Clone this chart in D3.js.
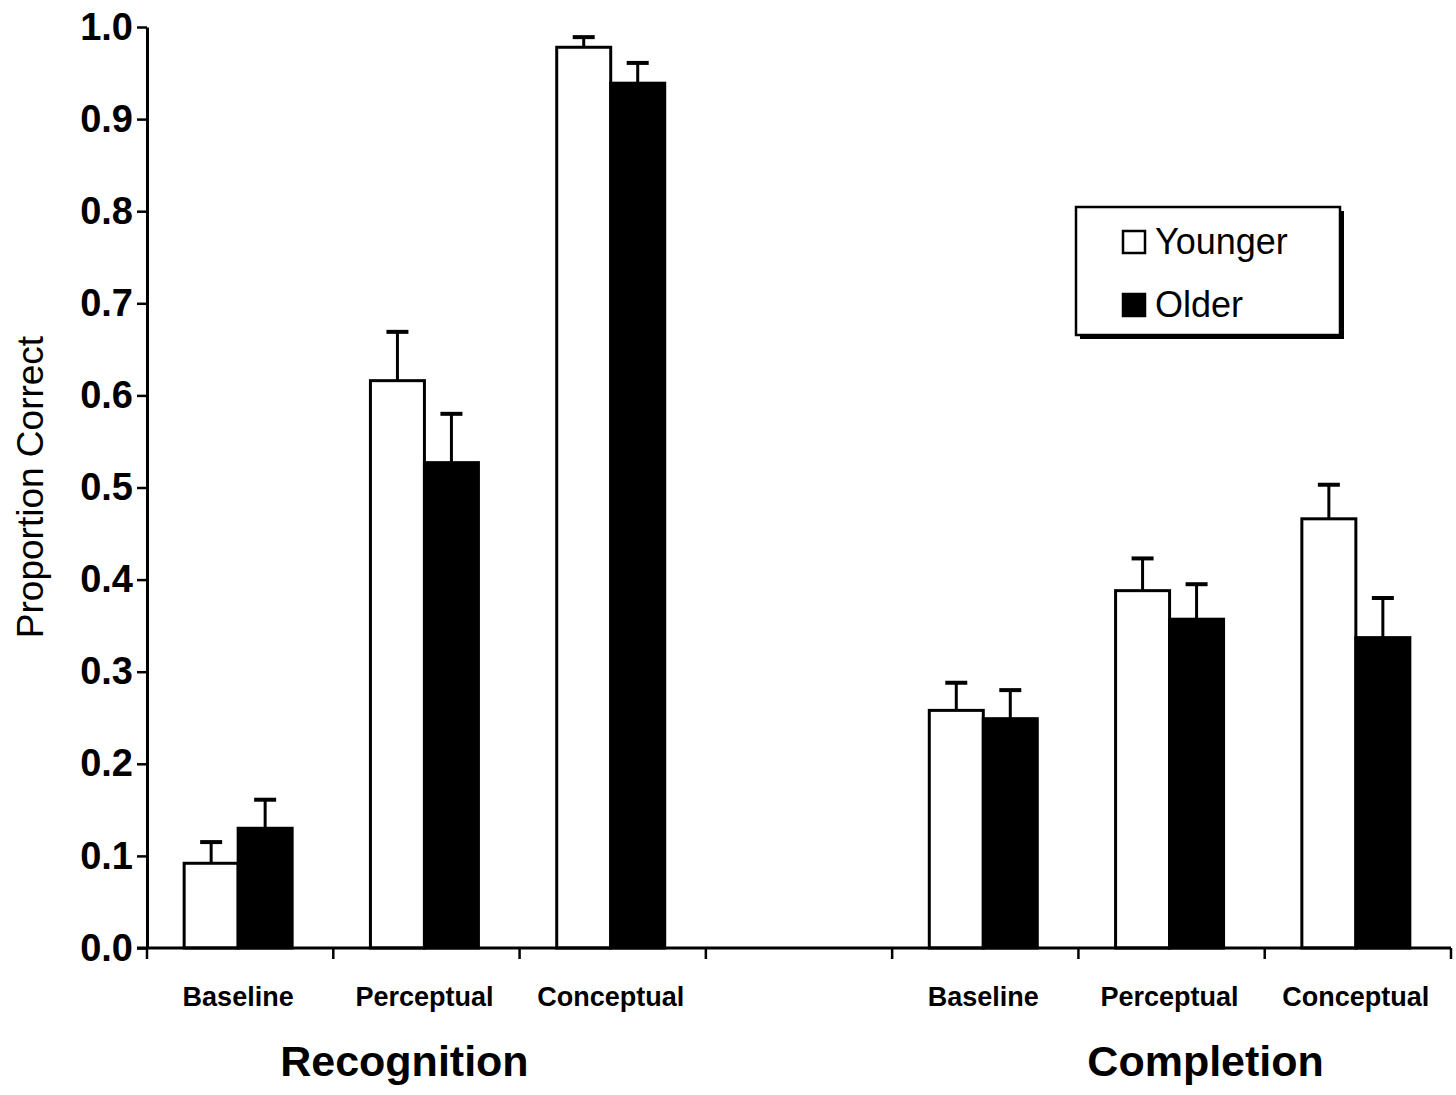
<!DOCTYPE html>
<html>
<head>
<meta charset="utf-8">
<script src="https://cdn.jsdelivr.net/npm/d3@7"></script>
<style>
  html, body { margin: 0; padding: 0; background: #fff; }
  svg { display: block; font-family: "Liberation Sans", Arial, sans-serif; }
</style>
</head>
<body>
<svg id="chart" width="1456" height="1095"></svg>
<script>
// ---- data ----
const slots = ["R-Baseline", "R-Perceptual", "R-Conceptual", "gap", "C-Baseline", "C-Perceptual", "C-Conceptual"];
const categories = ["Baseline", "Perceptual", "Conceptual", "Baseline", "Perceptual", "Conceptual"];
const categorySlots = ["R-Baseline", "R-Perceptual", "R-Conceptual", "C-Baseline", "C-Perceptual", "C-Conceptual"];
const groups = ["Recognition", "Completion"];
const series = ["Younger", "Older"];
const younger = [0.092, 0.616, 0.978, 0.258, 0.388, 0.466];
const older = [0.130, 0.527, 0.939, 0.249, 0.357, 0.337];
const youngerErr = [0.023, 0.053, 0.011, 0.030, 0.035, 0.037];
const olderErr = [0.031, 0.053, 0.022, 0.031, 0.038, 0.043];
const yTicks = [0.0, 0.1, 0.2, 0.3, 0.4, 0.5, 0.6, 0.7, 0.8, 0.9, 1.0];
const yTitle = "Proportion Correct";

(function () {
// ---- layout ----
const svg = d3.select("#chart");
const mLeft = 147, mRight = 1451, mTop = 27, mBottom = 948;

const x0 = d3.scaleBand().domain(slots).range([mLeft, mRight]).paddingInner(0).paddingOuter(0);
const x1 = d3.scaleBand().domain(series).range([0, x0.bandwidth()]).paddingInner(0).paddingOuter(0.725);
const y = d3.scaleLinear().domain([0, 1]).range([mBottom, mTop]);

const fills = { Younger: "#ffffff", Older: "#000000" };
const values = { Younger: younger, Older: older };
const errs = { Younger: youngerErr, Older: olderErr };

const rows = [];
categorySlots.forEach((s, i) => {
  series.forEach(k => rows.push({ slot: s, key: k, v: values[k][i], e: errs[k][i] }));
});

// bars
svg.append("g").selectAll("rect").data(rows).join("rect")
  .attr("x", d => x0(d.slot) + x1(d.key) - 2)
  .attr("y", d => y(d.v))
  .attr("width", x1.bandwidth())
  .attr("height", d => y(0) - y(d.v))
  .attr("fill", d => fills[d.key])
  .attr("stroke", "#000")
  .attr("stroke-width", 3);

// error bars
const eg = svg.append("g").attr("stroke", "#000");
const cx = d => x0(d.slot) + x1(d.key) + x1.bandwidth() / 2 - 2;
eg.selectAll("line.stem").data(rows).join("line")
  .attr("class", "stem")
  .attr("x1", cx).attr("x2", cx)
  .attr("y1", d => y(d.v))
  .attr("y2", d => y(d.v + d.e))
  .attr("stroke-width", 3);
eg.selectAll("line.cap").data(rows).join("line")
  .attr("class", "cap")
  .attr("x1", d => cx(d) - 11)
  .attr("x2", d => cx(d) + 11)
  .attr("y1", d => y(d.v + d.e))
  .attr("y2", d => y(d.v + d.e))
  .attr("stroke-width", 4);

// y axis
const yAxis = svg.append("g").attr("transform", `translate(${mLeft},0)`)
  .call(d3.axisLeft(y).tickValues(yTicks).tickFormat(d3.format(".1f")).tickSize(10).tickSizeOuter(0));
yAxis.select(".domain").attr("stroke-width", 3);
yAxis.selectAll(".tick line").attr("stroke-width", 2.5);
yAxis.selectAll(".tick text")
  .attr("x", -14)
  .attr("font-size", 38)
  .attr("font-weight", "bold")
  .attr("fill", "#000")
  .attr("font-family", "'Liberation Sans', Arial, sans-serif");

// x axis (band boundaries as ticks)
const boundaries = slots.map(s => x0(s)).concat([mRight]);
const xg = svg.append("g");
xg.append("line").attr("x1", mLeft - 10).attr("x2", mRight).attr("y1", mBottom).attr("y2", mBottom)
  .attr("stroke", "#000").attr("stroke-width", 3);
xg.selectAll("line.xt").data(boundaries).join("line")
  .attr("class", "xt")
  .attr("x1", d => d).attr("x2", d => d)
  .attr("y1", mBottom).attr("y2", mBottom + 11)
  .attr("stroke", "#000").attr("stroke-width", 2.5);

// category labels
svg.append("g").selectAll("text").data(categorySlots).join("text")
  .attr("x", (s) => x0(s) + x0.bandwidth() / 2 - 2)
  .attr("y", 1006)
  .attr("text-anchor", "middle")
  .attr("font-size", 27)
  .attr("font-weight", "bold")
  .text((s, i) => categories[i]);

// group labels
const groupCenters = [x0("R-Perceptual") + x0.bandwidth() / 2 - 22, x0("C-Perceptual") + x0.bandwidth() / 2 + 34];
svg.append("g").selectAll("text").data(groups).join("text")
  .attr("x", (g, i) => groupCenters[i])
  .attr("y", 1076)
  .attr("text-anchor", "middle")
  .attr("font-size", 43)
  .attr("font-weight", "bold")
  .text(g => g);

// y title
svg.append("text")
  .attr("transform", `translate(43,487) rotate(-90)`)
  .attr("text-anchor", "middle")
  .attr("font-size", 37)
  .text(yTitle);

// legend
const lg = svg.append("g").attr("transform", "translate(1076,207)");
lg.append("rect").attr("x", 4).attr("y", 4).attr("width", 264).attr("height", 128).attr("fill", "#000");
lg.append("rect").attr("x", 0).attr("y", 0).attr("width", 264).attr("height", 128)
  .attr("fill", "#fff").attr("stroke", "#000").attr("stroke-width", 2.5);
series.forEach((k, i) => {
  const yy = 35 + i * 63;
  lg.append("rect").attr("x", 47).attr("y", yy - 11).attr("width", 22).attr("height", 22)
    .attr("fill", fills[k]).attr("stroke", "#000").attr("stroke-width", 2.5);
  lg.append("text").attr("x", 79).attr("y", yy + 12).attr("font-size", 36).text(k);
});
})();
</script>
</body>
</html>
